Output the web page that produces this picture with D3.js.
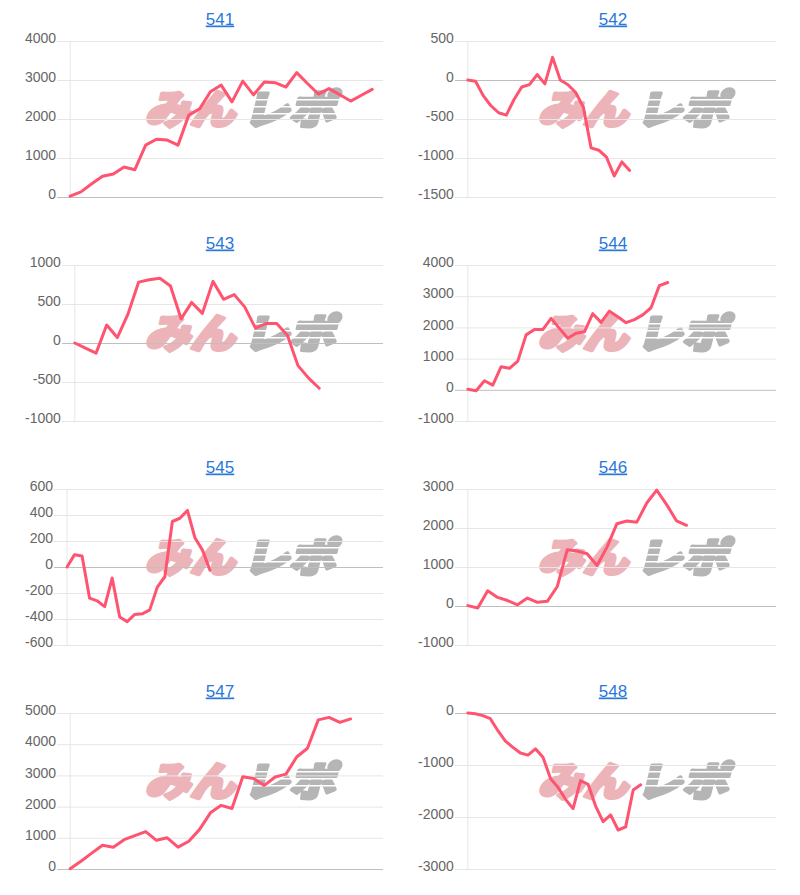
<!DOCTYPE html>
<html>
<head>
<meta charset="utf-8">
<script src="https://cdn.jsdelivr.net/npm/d3@7"></script>
<style>
body { margin: 0; background: #fff; }
</style>
</head>
<body>
<div id="chart-area"></div>
<script>
// machine numbers (panel titles)
var names = ["541", "542", "543", "544", "545", "546", "547", "548"]

// coin difference per sample
var v541 = [20, 130, 340, 530, 590, 770, 700, 1330, 1480, 1460, 1330, 2100, 2260, 2700, 2870, 2440, 2970, 2620, 2950, 2930, 2820, 3190, 2910, 2640, 2780, 2620, 2460, 2610, 2760]
var v542 = [0, -15, -200, -330, -420, -450, -250, -90, -60, 70, -50, 290, 0, -60, -160, -350, -870, -900, -990, -1230, -1050, -1160]
var v543 = [0, -65, -130, 230, 70, 370, 780, 810, 830, 730, 310, 520, 380, 790, 560, 620, 460, 190, 250, 250, 100, -290, -450, -580]
var v544 = [20, -30, 290, 150, 740, 690, 920, 1760, 1930, 1930, 2290, 1970, 1650, 1810, 1860, 2440, 2160, 2520, 2340, 2150, 2250, 2400, 2630, 3340, 3440]
var v545 = [0, 95, 85, -240, -260, -305, -85, -385, -420, -365, -360, -330, -155, -75, 350, 375, 435, 225, 130, -25]
var v546 = [10, -50, 390, 220, 140, 30, 205, 95, 120, 500, 1440, 1410, 1340, 1040, 1510, 2110, 2180, 2150, 2640, 2970, 2600, 2180, 2070]
var v547 = [10, 250, 510, 760, 700, 940, 1070, 1200, 920, 1000, 700, 890, 1270, 1800, 2040, 1940, 2960, 2900, 2680, 2950, 3040, 3590, 3870, 4780, 4860, 4700, 4810]
var v548 = [0, -15, -50, -110, -340, -540, -660, -770, -810, -690, -850, -1260, -1430, -1660, -1840, -1300, -1370, -1790, -2090, -1960, -2250, -2190, -1480, -1380]

// y tick labels per panel
var t541 = [0, 1000, 2000, 3000, 4000]
var t542 = [-1500, -1000, -500, 0, 500]
var t543 = [-1000, -500, 0, 500, 1000]
var t544 = [-1000, 0, 1000, 2000, 3000, 4000]
var t545 = [-600, -400, -200, 0, 200, 400, 600]
var t546 = [-1000, 0, 1000, 2000, 3000]
var t547 = [0, 1000, 2000, 3000, 4000, 5000]
var t548 = [-3000, -2000, -1000, 0]

// number of x slots on each panel's (hidden) x axis
var xCount = [30, 41, 30, 38, 43, 32, 30, 42]

var series = [v541, v542, v543, v544, v545, v546, v547, v548]
var ticks = [t541, t542, t543, t544, t545, t546, t547, t548]

var width = 800
var height = 895
var colX = [0, 393]
var rowTop = 41
var rowStep = 224
var plotH = 156
var font = "Arial, 'Liberation Sans', sans-serif"
var tickFont = "14px"

var svg = d3.select("#chart-area").append("svg")
.attr("width", width)
.attr("height", height)

var measure = svg.append("text")
.attr("font-family", font)
.attr("font-size", tickFont)
.attr("visibility", "hidden")

function textWidth(s) {
	measure.text(s)
	return measure.node().getComputedTextLength()
}

var defs = svg.append("defs")

names.forEach((name, i) => {
	var col = i % 2
	var row = Math.floor(i / 2)
	var top = rowTop + row * rowStep
	var bottom = top + plotH
	var axisStart = 25 + colX[col]
	var right = 383 + colX[col]
	var maxW = d3.max(ticks[i], d => textWidth(String(d)))
	var left = axisStart + maxW + 14

	var g = svg.append("g")

	// title
	g.append("text")
	.attr("x", 220 + colX[col])
	.attr("y", top - 16.5)
	.attr("text-anchor", "middle")
	.attr("font-family", font)
	.attr("font-size", "17px")
	.attr("text-decoration", "underline")
	.style("fill", "#2878d8")
	.text(name)

	// watermark logo (behind grid)
	var cx = 240 + colX[col]
	var logo = g.append("g")
	.attr("transform", "translate(" + cx + "," + (top + 83) + ") skewX(-14)")

	var mask = defs.append("mask").attr("id", "stripes" + i)
	mask.append("rect")
	.attr("x", -120).attr("y", -60).attr("width", 240).attr("height", 80)
	.style("fill", "white")
	;[-25, -18, -11].forEach(yy => {
		mask.append("rect")
		.attr("x", 0).attr("y", yy).attr("width", 110).attr("height", 1.6)
		.style("fill", "black")
	})

	logo.append("text")
	.attr("x", -95)
	.attr("y", 0)
	.attr("textLength", 90)
	.attr("lengthAdjust", "spacingAndGlyphs")
	.attr("font-family", "'Noto Sans CJK JP', sans-serif")
	.attr("font-weight", 900)
	.attr("font-size", "40px")
	.style("fill", "#ecb3b8")
	.style("stroke", "#ecb3b8")
	.style("stroke-width", 3.5)
	.style("stroke-linejoin", "round")
	.text("みん")

	logo.append("text")
	.attr("x", 3)
	.attr("y", 0)
	.attr("textLength", 92)
	.attr("lengthAdjust", "spacingAndGlyphs")
	.attr("font-family", "'Noto Sans CJK JP', sans-serif")
	.attr("font-weight", 900)
	.attr("font-size", "40px")
	.attr("mask", "url(#stripes" + i + ")")
	.style("fill", "#b5b5b5")
	.style("stroke", "#b5b5b5")
	.style("stroke-width", 3.5)
	.style("stroke-linejoin", "round")
	.text("レポ")

	var x = d3.scalePoint()
	.domain(d3.range(xCount[i]))
	.range([left, right])

	var y = d3.scaleLinear()
	.domain(d3.extent(ticks[i]))
	.range([bottom, top])

	// y axis + grid
	var yAxisCall = d3.axisLeft(y)
	.tickValues(ticks[i])
	.tickSize(-(right - left + 13))
	.tickPadding(1)
	.tickFormat(d => String(d))

	var yAxisGroup = g.append("g")
	.attr("transform", "translate(" + (left - 13) + ",0)")
	.call(yAxisCall)

	yAxisGroup.select(".domain").remove()
	yAxisGroup.selectAll("line")
	.style("stroke", d => d === 0 ? "#bfbfbf" : "#e6e6e6")
	.style("stroke-width", 1)
	yAxisGroup.selectAll("text")
	.attr("dy", "0.12em")
	.attr("font-family", font)
	.attr("font-size", tickFont)
	.style("fill", "#666")

	// vertical axis line
	g.append("line")
	.attr("x1", left).attr("x2", left)
	.attr("y1", top).attr("y2", bottom)
	.style("stroke", "#e6e6e6")

	// data line
	var line = d3.line()
	.x((d, k) => x(k))
	.y(d => y(d))

	g.append("path")
	.datum(series[i])
	.attr("d", line)
	.style("fill", "none")
	.style("stroke", "rgb(255,84,112)")
	.style("stroke-width", 3)
	.style("stroke-linejoin", "round")
	.style("stroke-linecap", "round")
})

measure.remove()
</script>
</body>
</html>
